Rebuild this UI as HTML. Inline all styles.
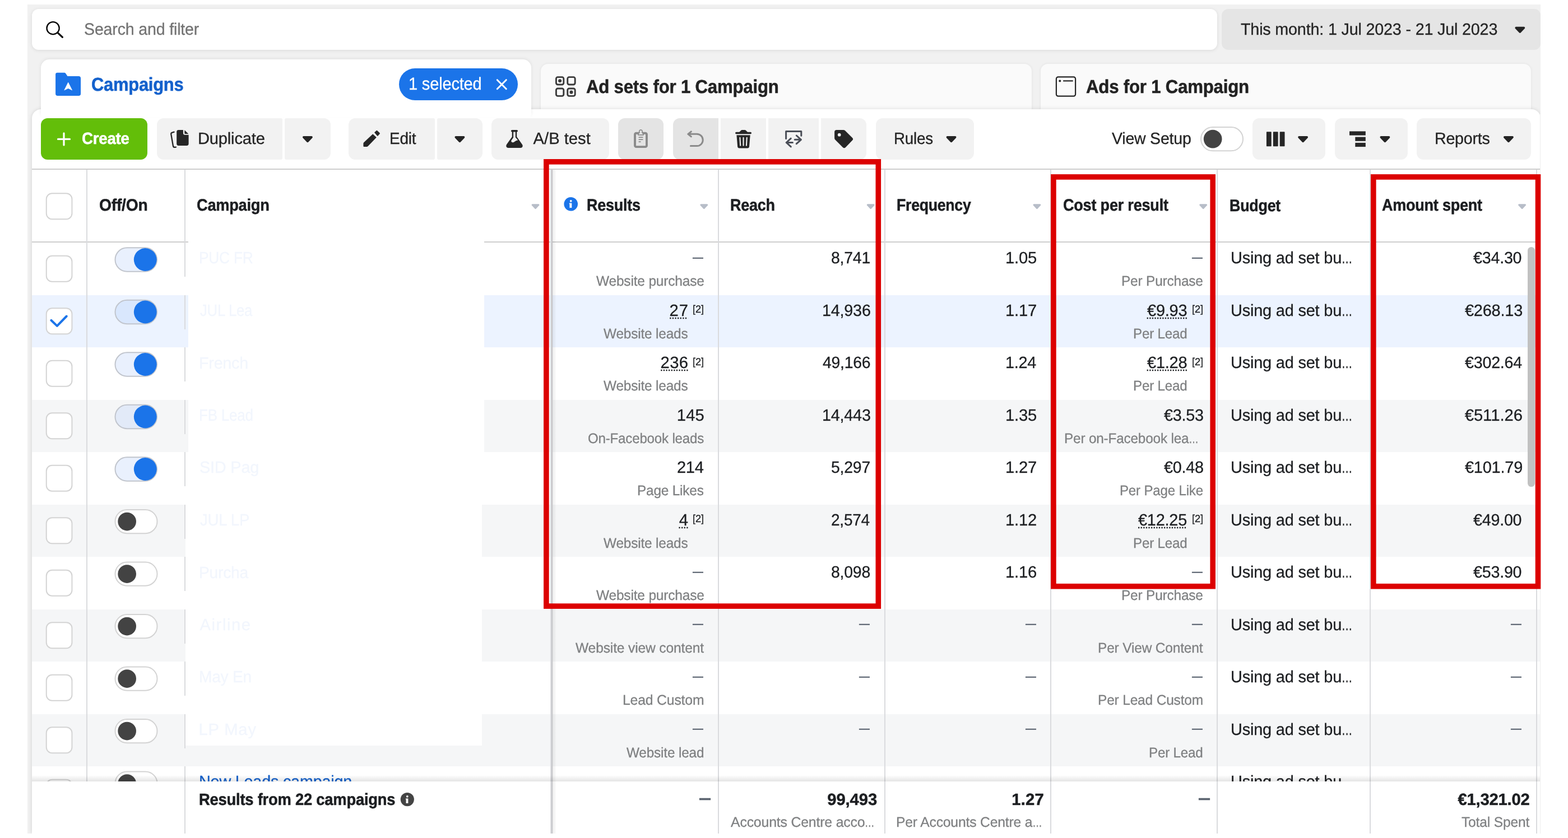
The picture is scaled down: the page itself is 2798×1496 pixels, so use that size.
<!DOCTYPE html>
<html lang="en"><head><meta charset="utf-8"><title>Ads Manager - Campaigns</title>
<style>
html,body{margin:0;padding:0;background:#fff;}
body{width:2798px;height:1496px;position:relative;overflow:hidden;font-family:"Liberation Sans", Arial, sans-serif;}
.t{position:absolute;white-space:nowrap;line-height:1;text-rendering:geometricPrecision;-webkit-text-stroke:0.3px currentColor;}
</style></head><body>
<div style="position:absolute;left:49px;top:8px;width:2700.3px;height:1480px;background:#f1f1f1;"></div>
<div style="position:absolute;left:57px;top:16.2px;width:2115.2px;height:73px;background:#fff;border-radius:12px;box-shadow:0 1px 6px rgba(0,0,0,.10);"></div>
<svg style="position:absolute;left:80px;top:35px;overflow:visible;" width="37" height="37"><g transform="translate(0.000 0.000)"><circle cx="14.6" cy="15.2" r="11.1" fill="none" stroke="#000" stroke-width="2.3"/><path d="M22.6 23.2L31.4 31.4" stroke="#000" stroke-width="3.2" stroke-linecap="round"/></g></svg>
<span class="t" style="top:38.00px;font-size:29.6px;color:#737373;letter-spacing:-0.167px;left:150.04px;transform:scaleX(0.9648);transform-origin:0 0;">Search and filter</span>
<div style="position:absolute;left:2180.4px;top:16.2px;width:568.8px;height:73px;background:#e5e5e5;border-radius:12px 11px 11px 12px;"></div>
<span class="t" style="top:39.00px;font-size:29.2px;color:#242424;letter-spacing:-0.164px;left:2214.00px;transform:scaleX(0.9827);transform-origin:0 0;">This month: 1 Jul 2023 - 21 Jul 2023</span>
<svg style="position:absolute;left:2702px;top:47px;overflow:visible;overflow:visible;" width="21" height="14"><g transform="translate(0.800 0.700) scale(0.95000 0.95000)"><path d="M2.7 0H17.3a2.1 2.1 0 0 1 1.5 3.55L11.55 11.2a2.15 2.15 0 0 1-3.1 0L1.2 3.55A2.1 2.1 0 0 1 2.7 0Z" fill="#242424"/></g></svg>
<div style="position:absolute;left:964.6px;top:114px;width:876.3px;height:90px;background:#fafafa;border-radius:13px 13px 0 0;box-shadow:0 0 5px rgba(0,0,0,.07);"></div>
<div style="position:absolute;left:1857.3px;top:114px;width:875.1px;height:90px;background:#fafafa;border-radius:13px 13px 0 0;box-shadow:0 0 5px rgba(0,0,0,.07);"></div>
<div style="position:absolute;left:57px;top:195px;width:2692.3px;height:1293px;background:#fff;border-radius:16px 16px 0 0;box-shadow:0 0 7px rgba(0,0,0,.13);"></div>
<div style="position:absolute;left:2749.3px;top:0px;width:49px;height:1496px;background:#fff;"></div>
<div style="position:absolute;left:0px;top:1488px;width:2798px;height:8px;background:#fff;"></div>
<div style="position:absolute;left:73px;top:106px;width:875.4px;height:100px;background:#fff;border-radius:15px 15px 0 0;box-shadow:0 -1px 6px rgba(0,0,0,.08);"></div>
<div style="position:absolute;left:74px;top:197px;width:873px;height:12px;background:#fff;"></div>
<svg style="position:absolute;left:99px;top:129px;overflow:visible;" width="47" height="44"><g transform="translate(0.100 0.800)"><path d="M0 3.2A3.2 3.2 0 0 1 3.2 0H15.6a3.2 3.2 0 0 1 2.6 1.35L21.4 6.3H41.2A3.8 3.8 0 0 1 45 10.1V37.4a3.8 3.8 0 0 1-3.8 3.8H3.8A3.8 3.8 0 0 1 0 37.4Z" fill="#1b74e9"/><path d="M22.6 17.3L29.6 31.2L22.6 27.9L15.6 31.2Z" fill="#fff" stroke="#fff" stroke-width="0.6" stroke-linejoin="round"/></g></svg>
<span class="t" style="top:135.00px;font-size:33.4px;color:#1461cc;font-weight:700;-webkit-text-stroke-width:0.55px;letter-spacing:-0.289px;left:162.57px;transform:scaleX(0.9267);transform-origin:0 0;">Campaigns</span>
<div style="position:absolute;left:712.2px;top:122.1px;width:211.9px;height:56.8px;background:#1b74e9;border-radius:29px;"></div>
<span class="t" style="top:134.00px;font-size:31.0px;color:#fff;letter-spacing:-0.197px;left:728.93px;transform:scaleX(0.9369);transform-origin:0 0;">1 selected</span>
<svg style="position:absolute;left:885px;top:141px;overflow:visible;" width="21" height="21"><g transform="translate(0.800 0.200)"><path d="M1.5 1.5L17.5 17.5M17.5 1.5L1.5 17.5" stroke="#fff" stroke-width="3" stroke-linecap="round"/></g></svg>
<svg style="position:absolute;left:990px;top:136px;overflow:visible;" width="39" height="39"><g transform="translate(0.950 0.150)"><rect x="1.45" y="1.45" width="13.4" height="13.4" rx="2.9" fill="none" stroke="#3a3a3a" stroke-width="2.9"/><circle cx="8.15" cy="8.15" r="3.05" fill="#3a3a3a"/><rect x="21.8" y="1.45" width="13.4" height="13.4" rx="2.9" fill="none" stroke="#3a3a3a" stroke-width="2.9"/><rect x="1.45" y="21.8" width="13.4" height="13.4" rx="2.9" fill="none" stroke="#3a3a3a" stroke-width="2.9"/><rect x="21.8" y="21.8" width="13.4" height="13.4" rx="2.9" fill="none" stroke="#3a3a3a" stroke-width="2.9"/><circle cx="28.5" cy="28.5" r="3.05" fill="#3a3a3a"/></g></svg>
<span class="t" style="top:139.00px;font-size:33.4px;color:#222;font-weight:700;-webkit-text-stroke-width:0.55px;letter-spacing:-0.227px;left:1045.90px;transform:scaleX(0.9338);transform-origin:0 0;">Ad sets for 1 Campaign</span>
<svg style="position:absolute;left:1883px;top:136px;overflow:visible;" width="39" height="38"><g transform="translate(0.700 0.100)"><rect x="1.2" y="1.2" width="34.2" height="34.4" rx="3.4" fill="none" stroke="#262626" stroke-width="2.2"/><circle cx="7.6" cy="8.3" r="2" fill="#262626"/><path d="M13.4 8.3H31" stroke="#262626" stroke-width="2.2"/></g></svg>
<span class="t" style="top:139.00px;font-size:33.4px;color:#222;font-weight:700;-webkit-text-stroke-width:0.55px;letter-spacing:-0.237px;left:1937.80px;transform:scaleX(0.9349);transform-origin:0 0;">Ads for 1 Campaign</span>
<div style="position:absolute;left:73.1px;top:211px;width:190.1px;height:74px;background:#63be09;border-radius:12px;"></div>
<svg style="position:absolute;left:102px;top:236px;overflow:visible;" width="25" height="26"><g transform="translate(0.300 0.700)"><path d="M11.7 1.2V22.2M1.2 11.7H22.2" stroke="#fff" stroke-width="3.2" stroke-linecap="round"/></g></svg>
<span class="t" style="top:234.00px;font-size:29.2px;color:#fff;font-weight:700;-webkit-text-stroke-width:0.55px;letter-spacing:-0.227px;left:146.05px;transform:scaleX(0.9459);transform-origin:0 0;">Create</span>
<div style="position:absolute;left:279.8px;top:211px;width:224.4px;height:74px;background:#f2f2f2;border-radius:12px 3px 3px 12px;"></div>
<svg style="position:absolute;left:304px;top:231px;overflow:visible;" width="34" height="35"><g transform="translate(0.000 0.800)"><path d="M14.6 0.1H22.9V5.8A3.2 3.2 0 0 0 26.1 9H32.6V24.7A3.4 3.4 0 0 1 29.2 28.1H14.6A3.4 3.4 0 0 1 11.2 24.7V3.5A3.4 3.4 0 0 1 14.6 0.1Z" fill="#262626"/><path d="M25.3 0.5L32.3 7.1H26.3A1 1 0 0 1 25.3 6.1Z" fill="#262626"/><path d="M6.6 3.9L3.3 4.8A2.7 2.7 0 0 0 1.3 7.9L4.9 28.7A2.9 2.9 0 0 0 8.1 31.1L9.9 30.9" fill="none" stroke="#262626" stroke-width="2.3" stroke-linecap="round" stroke-linejoin="round"/></g></svg>
<span class="t" style="top:234.00px;font-size:29.2px;color:#242424;letter-spacing:-0.178px;left:352.81px;transform:scaleX(0.9964);transform-origin:0 0;">Duplicate</span>
<div style="position:absolute;left:508.2px;top:211px;width:81.4px;height:74px;background:#f2f2f2;border-radius:3px 12px 12px 3px;"></div>
<svg style="position:absolute;left:539px;top:242px;overflow:visible;overflow:visible;" width="21" height="14"><g transform="translate(0.400 0.900) scale(0.95000 0.95000)"><path d="M2.7 0H17.3a2.1 2.1 0 0 1 1.5 3.55L11.55 11.2a2.15 2.15 0 0 1-3.1 0L1.2 3.55A2.1 2.1 0 0 1 2.7 0Z" fill="#242424"/></g></svg>
<div style="position:absolute;left:622.1px;top:211px;width:153.7px;height:74px;background:#f2f2f2;border-radius:12px 3px 3px 12px;"></div>
<svg style="position:absolute;left:640px;top:216px;overflow:visible;" width="49" height="57"><g transform="translate(0.000 0.000)"><path d="M25.2 23.3L31.8 29.3L16.6 45.1Q15.6 46 14.4 46L9.7 46.1Q8.4 46.1 8.4 44.8L8.4 40.4Q8.4 39.1 9.3 38.2Z" fill="#262626"/><path d="M28 20.6L31.5 17.2Q32.3 16.4 33.2 17.2L37.5 21.3Q38.3 22.1 37.6 23L34.4 26.5Q33.8 27.1 33.1 26.4Z" fill="#262626"/></g></svg>
<span class="t" style="top:234.00px;font-size:29.2px;color:#242424;letter-spacing:-0.202px;left:695.49px;transform:scaleX(0.9563);transform-origin:0 0;">Edit</span>
<div style="position:absolute;left:779.7px;top:211px;width:81.2px;height:74px;background:#f2f2f2;border-radius:3px 12px 12px 3px;"></div>
<svg style="position:absolute;left:810px;top:242px;overflow:visible;overflow:visible;" width="21" height="14"><g transform="translate(0.900 0.900) scale(0.95000 0.95000)"><path d="M2.7 0H17.3a2.1 2.1 0 0 1 1.5 3.55L11.55 11.2a2.15 2.15 0 0 1-3.1 0L1.2 3.55A2.1 2.1 0 0 1 2.7 0Z" fill="#242424"/></g></svg>
<div style="position:absolute;left:877.1px;top:211px;width:209.6px;height:74px;background:#f2f2f2;border-radius:12px;"></div>
<svg style="position:absolute;left:890px;top:216px;overflow:visible;" width="61" height="57"><g transform="translate(0.000 0.000)"><rect x="21.9" y="15.9" width="12.1" height="3.6" rx="1.8" fill="#262626"/><path d="M23.7 17.6V28.3L14.3 41.5Q12.3 44.6 14 46.7Q15.2 48.1 17.4 48.1H38.5Q40.7 48.1 41.9 46.7Q43.6 44.6 41.6 41.5L32.2 28.3V17.6Z" fill="#262626"/><path d="M26.1 19.4H29.8V29.2L34.2 34.3Q31.2 34.5 28.8 36.4Q26.2 38.5 24.3 38.2Q22.5 37.8 22.2 36.1Q22.1 35.2 22.8 34.2L26.1 29.5Z" fill="#f2f2f2"/></g></svg>
<span class="t" style="top:234.00px;font-size:29.2px;color:#242424;letter-spacing:0.001px;left:951.60px;">A/B test</span>
<div style="position:absolute;left:1102.9px;top:211px;width:81.2px;height:74px;background:#e4e4e4;border-radius:12px;"></div>
<svg style="position:absolute;left:1100px;top:216px;overflow:visible;" width="101" height="57"><g transform="translate(0.000 0.000)"><rect x="33" y="21.75" width="20.95" height="24.4" rx="2.3" fill="none" stroke="#8a8a8a" stroke-width="3.9"/><path d="M38.9 24.9V23.6Q38.9 22.2 40.3 21.6Q41.3 21.1 41 19.8A2.75 2.75 0 1 1 45.9 19.8Q45.6 21.1 46.6 21.6Q48 22.2 48 23.6V24.9Z" fill="#e4e4e4" stroke="#8a8a8a" stroke-width="1.7" stroke-linejoin="round"/><path d="M39.6 29.1H47.4M39.6 33.15H47.4M39.6 37.1H43.5" stroke="#8a8a8a" stroke-width="1.75"/></g></svg>
<div style="position:absolute;left:1200.6px;top:211px;width:81.4px;height:74px;background:#e4e4e4;border-radius:12px 0 0 12px;"></div>
<svg style="position:absolute;left:1100px;top:216px;overflow:visible;" width="201" height="57"><g transform="translate(0.000 0.000)"><path d="M133.3 18.9L127.8 23.3L133.3 27.8M128.4 23.3H143.6A10.65 10.65 0 0 1 143.6 44.6H132.4" fill="none" stroke="#8a8a8a" stroke-width="3" stroke-linecap="round" stroke-linejoin="round"/></g></svg>
<div style="position:absolute;left:1285.9px;top:211px;width:81.0px;height:74px;background:#f2f2f2;border-radius:0;"></div>
<svg style="position:absolute;left:1300px;top:216px;overflow:visible;" width="61" height="57"><g transform="translate(0.000 0.000)"><path d="M18.6 20.6L22.3 16.8Q23 16 24.1 16H29.1Q30.2 16 30.9 16.8L34.6 20.6Z" fill="#262626"/><rect x="12.1" y="19.85" width="28.9" height="3.3" rx="1.65" fill="#262626"/><path d="M14.4 25.2H38.7L37 45.5Q36.7 48.4 33.9 48.4H19.2Q16.4 48.4 16.1 45.5Z" fill="#262626"/><path d="M20.4 29.7L21.2 43.8M26.55 29.7V43.8M32.7 29.7L31.9 43.8" stroke="#f2f2f2" stroke-width="2.1" stroke-linecap="round"/></g></svg>
<div style="position:absolute;left:1371.1px;top:211px;width:89.6px;height:74px;background:#f2f2f2;border-radius:0;"></div>
<svg style="position:absolute;left:1300px;top:216px;overflow:visible;" width="161" height="57"><g transform="translate(0.000 0.000)"><path d="M102.6 31.4V18.5H129.8V26.3" fill="none" stroke="#4a4e57" stroke-width="3" stroke-linecap="round" stroke-linejoin="round"/><path d="M111.2 31.2L103.2 38.5L111.2 45.9M104 38.5H114.4" fill="none" stroke="#4a4e57" stroke-width="3" stroke-linecap="round" stroke-linejoin="round"/><path d="M121.3 26L129.4 33.3L121.3 40.7M128.6 33.3H118.2" fill="none" stroke="#4a4e57" stroke-width="3" stroke-linecap="round" stroke-linejoin="round"/></g></svg>
<div style="position:absolute;left:1465px;top:211px;width:81px;height:74px;background:#f2f2f2;border-radius:0 12px 12px 0;"></div>
<svg style="position:absolute;left:1300px;top:216px;overflow:visible;" width="241" height="57"><g transform="translate(0.000 0.000)"><path d="M189.1 19.7Q189.1 16 192.8 16H204.9Q206.8 16 208.1 17.3L221 30Q223.3 32.3 221 34.6L208.7 47.2Q206.4 49.5 204.1 47.2L190.4 33.5Q189.1 32.2 189.1 30.4Z" fill="#262626"/><circle cx="197.7" cy="24.7" r="2.85" fill="#f2f2f2"/></g></svg>
<div style="position:absolute;left:1562.5px;top:211px;width:175.5px;height:74px;background:#f2f2f2;border-radius:12px;"></div>
<span class="t" style="top:234.00px;font-size:29.2px;color:#242424;letter-spacing:-0.227px;left:1594.60px;transform:scaleX(0.9505);transform-origin:0 0;">Rules</span>
<svg style="position:absolute;left:1688px;top:242px;overflow:visible;overflow:visible;" width="20" height="14"><g transform="translate(0.000 0.900) scale(0.95000 0.95000)"><path d="M2.7 0H17.3a2.1 2.1 0 0 1 1.5 3.55L11.55 11.2a2.15 2.15 0 0 1-3.1 0L1.2 3.55A2.1 2.1 0 0 1 2.7 0Z" fill="#242424"/></g></svg>
<span class="t" style="top:234.00px;font-size:29.2px;color:#242424;letter-spacing:-0.199px;left:1984.10px;transform:scaleX(0.9751);transform-origin:0 0;">View Setup</span>
<svg style="position:absolute;left:2142px;top:226px;overflow:visible;" width="79" height="47"><g transform="translate(0.000 0.000)"><rect x="1" y="1" width="75" height="42.3" rx="21.15" fill="#fff" stroke="#d3d3d3" stroke-width="2"/><circle cx="22.15" cy="22.15" r="16.35" fill="#434343"/></g></svg>
<div style="position:absolute;left:2235.1px;top:211px;width:130.1px;height:74px;background:#f2f2f2;border-radius:12px;"></div>
<svg style="position:absolute;left:2259px;top:235px;overflow:visible;" width="35" height="28"><g transform="translate(0.900 0.200)"><rect x="0" y="0" width="8.8" height="26" rx="0.8" fill="#262626"/><rect x="11.9" y="0" width="8.8" height="26" rx="0.8" fill="#262626"/><rect x="23.8" y="0" width="8.8" height="26" rx="0.8" fill="#262626"/></g></svg>
<svg style="position:absolute;left:2315px;top:242px;overflow:visible;overflow:visible;" width="21" height="14"><g transform="translate(0.600 0.900) scale(0.95000 0.95000)"><path d="M2.7 0H17.3a2.1 2.1 0 0 1 1.5 3.55L11.55 11.2a2.15 2.15 0 0 1-3.1 0L1.2 3.55A2.1 2.1 0 0 1 2.7 0Z" fill="#242424"/></g></svg>
<div style="position:absolute;left:2381.7px;top:211px;width:130.1px;height:74px;background:#f2f2f2;border-radius:12px;"></div>
<svg style="position:absolute;left:2408px;top:234px;overflow:visible;" width="30" height="30"><g transform="translate(0.000 0.400)"><rect x="0" y="0" width="28.8" height="7.2" fill="#262626"/><rect x="10.3" y="10.2" width="18.5" height="7.2" fill="#262626"/><rect x="10.3" y="20.5" width="18.5" height="7.2" fill="#262626"/></g></svg>
<svg style="position:absolute;left:2461px;top:242px;overflow:visible;overflow:visible;" width="21" height="14"><g transform="translate(0.900 0.900) scale(0.95000 0.95000)"><path d="M2.7 0H17.3a2.1 2.1 0 0 1 1.5 3.55L11.55 11.2a2.15 2.15 0 0 1-3.1 0L1.2 3.55A2.1 2.1 0 0 1 2.7 0Z" fill="#242424"/></g></svg>
<div style="position:absolute;left:2528.1px;top:211px;width:204.3px;height:74px;background:#f2f2f2;border-radius:12px;"></div>
<span class="t" style="top:234.00px;font-size:29.2px;color:#242424;letter-spacing:-0.204px;left:2559.84px;transform:scaleX(0.9788);transform-origin:0 0;">Reports</span>
<svg style="position:absolute;left:2682px;top:242px;overflow:visible;overflow:visible;" width="21" height="14"><g transform="translate(0.400 0.900) scale(0.95000 0.95000)"><path d="M2.7 0H17.3a2.1 2.1 0 0 1 1.5 3.55L11.55 11.2a2.15 2.15 0 0 1-3.1 0L1.2 3.55A2.1 2.1 0 0 1 2.7 0Z" fill="#242424"/></g></svg>
<div style="position:absolute;left:0;top:0;width:2798px;height:1395px;overflow:hidden;">
<div style="position:absolute;left:57px;top:526.5px;width:2692.3px;height:93.5px;background:#ecf3ff;"></div>
<div style="position:absolute;left:57px;top:713.5px;width:2692.3px;height:93.5px;background:#f5f6f7;"></div>
<div style="position:absolute;left:57px;top:900.5px;width:2692.3px;height:93.5px;background:#f5f6f7;"></div>
<div style="position:absolute;left:57px;top:1087.5px;width:2692.3px;height:93.5px;background:#f5f6f7;"></div>
<div style="position:absolute;left:57px;top:1274.5px;width:2692.3px;height:93.5px;background:#f5f6f7;"></div>
<div style="position:absolute;left:57px;top:301px;width:2692.3px;height:2px;background:#cecece;"></div>
<div style="position:absolute;left:57px;top:431px;width:2692.3px;height:2px;background:#cecece;"></div>
<div style="position:absolute;left:154.4px;top:303px;width:2px;height:1200px;background:#dadbde;"></div>
<div style="position:absolute;left:329px;top:303px;width:2px;height:130px;background:#dadbde;"></div>
<div style="position:absolute;left:329px;top:433.0px;width:2px;height:61px;background:#dadbde;"></div>
<div style="position:absolute;left:329px;top:526.5px;width:2px;height:61px;background:#dadbde;"></div>
<div style="position:absolute;left:329px;top:620.0px;width:2px;height:61px;background:#dadbde;"></div>
<div style="position:absolute;left:329px;top:713.5px;width:2px;height:61px;background:#dadbde;"></div>
<div style="position:absolute;left:329px;top:807.0px;width:2px;height:61px;background:#dadbde;"></div>
<div style="position:absolute;left:329px;top:900.5px;width:2px;height:61px;background:#dadbde;"></div>
<div style="position:absolute;left:329px;top:994.0px;width:2px;height:61px;background:#dadbde;"></div>
<div style="position:absolute;left:329px;top:1087.5px;width:2px;height:61px;background:#dadbde;"></div>
<div style="position:absolute;left:329px;top:1181.0px;width:2px;height:61px;background:#dadbde;"></div>
<div style="position:absolute;left:329px;top:1274.5px;width:2px;height:61px;background:#dadbde;"></div>
<div style="position:absolute;left:329px;top:1368.0px;width:2px;height:61px;background:#dadbde;"></div>
<div style="position:absolute;left:1281px;top:303px;width:2px;height:1200px;background:#dadbde;"></div>
<div style="position:absolute;left:1578px;top:303px;width:2px;height:1200px;background:#dadbde;"></div>
<div style="position:absolute;left:1874.1px;top:303px;width:2px;height:1200px;background:#dadbde;"></div>
<div style="position:absolute;left:2171.3px;top:303px;width:2px;height:1200px;background:#dadbde;"></div>
<div style="position:absolute;left:2444px;top:303px;width:2px;height:1200px;background:#dadbde;"></div>
<div style="position:absolute;left:2740.8px;top:303px;width:2px;height:1200px;background:#dadbde;"></div>
<div style="position:absolute;left:982px;top:303px;width:2px;height:1200px;background:#dcdde0;"></div>
<div style="position:absolute;left:984px;top:303px;width:2px;height:1200px;background:#c4c5c9;"></div>
<div style="position:absolute;left:986px;top:303px;width:7px;height:1200px;background:linear-gradient(90deg,rgba(0,0,0,.075),rgba(0,0,0,0));"></div>
<svg style="position:absolute;left:81px;top:344px;overflow:visible;" width="51" height="51"><g transform="translate(0.750 0.200)"><rect x="1" y="1" width="45.7" height="46" rx="10.2" fill="#fff" stroke="#d4d4d4" stroke-width="2"/></g></svg>
<span class="t" style="top:352.00px;font-size:29.6px;color:#1c1e21;font-weight:700;-webkit-text-stroke-width:0.55px;letter-spacing:-0.226px;left:176.85px;transform:scaleX(0.9534);transform-origin:0 0;">Off/On</span>
<span class="t" style="top:352.00px;font-size:29.6px;color:#1c1e21;font-weight:700;-webkit-text-stroke-width:0.55px;letter-spacing:-0.263px;left:351.48px;transform:scaleX(0.9192);transform-origin:0 0;">Campaign</span>
<svg style="position:absolute;left:1006px;top:351px;overflow:visible;" width="26" height="27"><g transform="translate(0.400 0.900)"><circle cx="12.3" cy="12.3" r="12.3" fill="#1b74e9"/><circle cx="12.3" cy="6.9" r="1.9" fill="#fff"/><path d="M10 10.6H13.9V19.2H10Z M9.4 10.6H13.9V12.4H9.4Z" fill="#fff"/></g></svg>
<span class="t" style="top:352.00px;font-size:29.6px;color:#1c1e21;font-weight:700;-webkit-text-stroke-width:0.55px;letter-spacing:-0.232px;left:1047.09px;transform:scaleX(0.9092);transform-origin:0 0;">Results</span>
<span class="t" style="top:352.00px;font-size:29.6px;color:#1c1e21;font-weight:700;-webkit-text-stroke-width:0.55px;letter-spacing:-0.286px;left:1302.89px;transform:scaleX(0.9112);transform-origin:0 0;">Reach</span>
<span class="t" style="top:352.00px;font-size:29.6px;color:#1c1e21;font-weight:700;-webkit-text-stroke-width:0.55px;letter-spacing:-0.249px;left:1599.90px;transform:scaleX(0.8987);transform-origin:0 0;">Frequency</span>
<span class="t" style="top:352.00px;font-size:29.6px;color:#1c1e21;font-weight:700;-webkit-text-stroke-width:0.55px;letter-spacing:-0.195px;left:1896.59px;transform:scaleX(0.9120);transform-origin:0 0;">Cost per result</span>
<span class="t" style="top:353.00px;font-size:29.6px;color:#1c1e21;font-weight:700;-webkit-text-stroke-width:0.55px;letter-spacing:-0.267px;left:2193.79px;transform:scaleX(0.9075);transform-origin:0 0;">Budget</span>
<span class="t" style="top:352.00px;font-size:29.6px;color:#1c1e21;font-weight:700;-webkit-text-stroke-width:0.55px;letter-spacing:-0.238px;left:2466.00px;transform:scaleX(0.9117);transform-origin:0 0;">Amount spent</span>
<svg style="position:absolute;left:948px;top:364px;overflow:visible;overflow:visible;" width="16" height="11"><g transform="translate(0.100 0.200) scale(0.74000 0.75000)"><path d="M2.7 0H17.3a2.1 2.1 0 0 1 1.5 3.55L11.55 11.2a2.15 2.15 0 0 1-3.1 0L1.2 3.55A2.1 2.1 0 0 1 2.7 0Z" fill="#b7bdc8"/></g></svg>
<svg style="position:absolute;left:1248px;top:364px;overflow:visible;overflow:visible;" width="17" height="11"><g transform="translate(0.900 0.200) scale(0.74000 0.75000)"><path d="M2.7 0H17.3a2.1 2.1 0 0 1 1.5 3.55L11.55 11.2a2.15 2.15 0 0 1-3.1 0L1.2 3.55A2.1 2.1 0 0 1 2.7 0Z" fill="#b7bdc8"/></g></svg>
<svg style="position:absolute;left:1546px;top:364px;overflow:visible;overflow:visible;" width="17" height="11"><g transform="translate(0.300 0.200) scale(0.74000 0.75000)"><path d="M2.7 0H17.3a2.1 2.1 0 0 1 1.5 3.55L11.55 11.2a2.15 2.15 0 0 1-3.1 0L1.2 3.55A2.1 2.1 0 0 1 2.7 0Z" fill="#b7bdc8"/></g></svg>
<svg style="position:absolute;left:1843px;top:364px;overflow:visible;overflow:visible;" width="16" height="11"><g transform="translate(0.000 0.200) scale(0.74000 0.75000)"><path d="M2.7 0H17.3a2.1 2.1 0 0 1 1.5 3.55L11.55 11.2a2.15 2.15 0 0 1-3.1 0L1.2 3.55A2.1 2.1 0 0 1 2.7 0Z" fill="#b7bdc8"/></g></svg>
<svg style="position:absolute;left:2139px;top:364px;overflow:visible;overflow:visible;" width="17" height="11"><g transform="translate(0.800 0.200) scale(0.74000 0.75000)"><path d="M2.7 0H17.3a2.1 2.1 0 0 1 1.5 3.55L11.55 11.2a2.15 2.15 0 0 1-3.1 0L1.2 3.55A2.1 2.1 0 0 1 2.7 0Z" fill="#b7bdc8"/></g></svg>
<svg style="position:absolute;left:2708px;top:364px;overflow:visible;overflow:visible;" width="17" height="11"><g transform="translate(0.700 0.200) scale(0.74000 0.75000)"><path d="M2.7 0H17.3a2.1 2.1 0 0 1 1.5 3.55L11.55 11.2a2.15 2.15 0 0 1-3.1 0L1.2 3.55A2.1 2.1 0 0 1 2.7 0Z" fill="#b7bdc8"/></g></svg>
<svg style="position:absolute;left:81px;top:455px;overflow:visible;" width="51" height="51"><g transform="translate(0.750 0.800)"><rect x="1" y="1" width="45.7" height="46" rx="10.2" fill="#fff" stroke="#d4d4d4" stroke-width="2"/></g></svg>
<svg style="position:absolute;left:204px;top:441px;overflow:visible;" width="80" height="48"><g transform="translate(0.500 0.350)"><rect x="1" y="1" width="74.5" height="42.3" rx="21.15" fill="#e9f0fd" stroke="#c1c5cd" stroke-width="2"/><circle cx="54.75" cy="22.15" r="20.4" fill="#1b74e9"/></g></svg>
<span class="t" style="top:447.00px;font-size:29.2px;color:#1c1e21;letter-spacing:-0.173px;left:2196.02px;transform:scaleX(0.9892);transform-origin:0 0;">Using ad set bu<span style="display:inline-block;letter-spacing:0;margin-left:-0.59px;transform:scaleX(0.6802);transform-origin:0 0;">…</span></span>
<span class="t" style="right:1542.90px;top:444.80px;font-size:28px;line-height:28px;color:#5d6673;transform:scaleX(.675) scaleY(1.0);transform-origin:100% 62%;">—</span>
<span class="t" style="top:490.00px;font-size:25.0px;color:#7f8082;letter-spacing:-0.163px;left:1063.60px;transform:scaleX(0.9781);transform-origin:0 0;">Website purchase</span>
<span class="t" style="top:447.00px;font-size:29.2px;color:#1c1e21;letter-spacing:-0.218px;left:1483.33px;transform:scaleX(0.9724);transform-origin:0 0;">8,741</span>
<span class="t" style="top:447.00px;font-size:29.2px;color:#1c1e21;letter-spacing:-0.158px;left:1794.00px;">1.05</span>
<span class="t" style="right:652.20px;top:444.80px;font-size:28px;line-height:28px;color:#5d6673;transform:scaleX(.675) scaleY(1.0);transform-origin:100% 62%;">—</span>
<span class="t" style="top:490.00px;font-size:25.0px;color:#7f8082;letter-spacing:-0.166px;left:2001.35px;transform:scaleX(0.9746);transform-origin:0 0;">Per Purchase</span>
<span class="t" style="top:447.00px;font-size:29.2px;color:#1c1e21;letter-spacing:-0.218px;left:2629.40px;transform:scaleX(0.9812);transform-origin:0 0;">€34.30</span>
<svg style="position:absolute;left:81px;top:549px;overflow:visible;" width="51" height="51"><g transform="translate(0.750 0.300)"><rect x="1" y="1" width="45.7" height="46" rx="10.2" fill="#fff" stroke="#d4d4d4" stroke-width="2"/><path d="M9.6 22.5L20.1 32.6L37 15.2" fill="none" stroke="#1b74e9" stroke-width="4" stroke-linecap="round" stroke-linejoin="round"/></g></svg>
<svg style="position:absolute;left:204px;top:534px;overflow:visible;" width="80" height="48"><g transform="translate(0.500 0.850)"><rect x="1" y="1" width="74.5" height="42.3" rx="21.15" fill="#d9e7fd" stroke="#c1c5cd" stroke-width="2"/><circle cx="54.75" cy="22.15" r="20.4" fill="#1b74e9"/></g></svg>
<span class="t" style="top:541.00px;font-size:29.2px;color:#1c1e21;letter-spacing:-0.173px;left:2196.02px;transform:scaleX(0.9892);transform-origin:0 0;">Using ad set bu<span style="display:inline-block;letter-spacing:0;margin-left:-0.59px;transform:scaleX(0.6802);transform-origin:0 0;">…</span></span>
<span class="t" style="top:541.00px;font-size:29.2px;color:#1c1e21;letter-spacing:0.867px;left:1194.60px;">27</span>
<span class="t" style="top:543.00px;font-size:18.3px;color:#1c1e21;letter-spacing:-0.110px;left:1236.21px;transform:scaleX(0.9930);transform-origin:0 0;">[2]</span>
<svg style="position:absolute;left:1195px;top:566px;overflow:visible;" width="34" height="5"><g transform="translate(0.200 0.650)"><path d="M0 1.25H32.30" stroke="#1c1e21" stroke-width="2.5" stroke-dasharray="2.3 2.3" fill="none"/></g></svg>
<span class="t" style="top:584.00px;font-size:25.0px;color:#7f8082;letter-spacing:-0.160px;left:1077.00px;transform:scaleX(0.9744);transform-origin:0 0;">Website leads</span>
<span class="t" style="top:541.00px;font-size:29.2px;color:#1c1e21;letter-spacing:-0.210px;left:1466.63px;transform:scaleX(0.9848);transform-origin:0 0;">14,936</span>
<span class="t" style="top:541.00px;font-size:29.2px;color:#1c1e21;letter-spacing:-0.158px;left:1794.00px;">1.17</span>
<span class="t" style="top:541.00px;font-size:29.2px;color:#1c1e21;letter-spacing:-0.217px;left:2047.00px;transform:scaleX(0.9924);transform-origin:0 0;">€9.93</span>
<span class="t" style="top:543.00px;font-size:18.3px;color:#1c1e21;letter-spacing:-0.110px;left:2126.91px;transform:scaleX(0.9930);transform-origin:0 0;">[2]</span>
<svg style="position:absolute;left:2046px;top:566px;overflow:visible;" width="74" height="5"><g transform="translate(0.600 0.650)"><path d="M0 1.25H71.60" stroke="#1c1e21" stroke-width="2.5" stroke-dasharray="2.3 2.3" fill="none"/></g></svg>
<span class="t" style="top:584.00px;font-size:25.0px;color:#7f8082;letter-spacing:-0.175px;left:2021.57px;transform:scaleX(0.9647);transform-origin:0 0;">Per Lead</span>
<span class="t" style="top:541.00px;font-size:29.2px;color:#1c1e21;letter-spacing:-0.211px;left:2613.70px;transform:scaleX(0.9902);transform-origin:0 0;">€268.13</span>
<svg style="position:absolute;left:81px;top:642px;overflow:visible;" width="51" height="51"><g transform="translate(0.750 0.800)"><rect x="1" y="1" width="45.7" height="46" rx="10.2" fill="#fff" stroke="#d4d4d4" stroke-width="2"/></g></svg>
<svg style="position:absolute;left:204px;top:628px;overflow:visible;" width="80" height="48"><g transform="translate(0.500 0.350)"><rect x="1" y="1" width="74.5" height="42.3" rx="21.15" fill="#e9f0fd" stroke="#c1c5cd" stroke-width="2"/><circle cx="54.75" cy="22.15" r="20.4" fill="#1b74e9"/></g></svg>
<span class="t" style="top:634.00px;font-size:29.2px;color:#1c1e21;letter-spacing:-0.173px;left:2196.02px;transform:scaleX(0.9892);transform-origin:0 0;">Using ad set bu<span style="display:inline-block;letter-spacing:0;margin-left:-0.59px;transform:scaleX(0.6802);transform-origin:0 0;">…</span></span>
<span class="t" style="top:634.00px;font-size:29.2px;color:#1c1e21;letter-spacing:0.317px;left:1178.60px;">236</span>
<span class="t" style="top:637.00px;font-size:18.3px;color:#1c1e21;letter-spacing:-0.110px;left:1236.21px;transform:scaleX(0.9930);transform-origin:0 0;">[2]</span>
<svg style="position:absolute;left:1179px;top:659px;overflow:visible;" width="50" height="5"><g transform="translate(0.200 0.650)"><path d="M0 1.25H48.30" stroke="#1c1e21" stroke-width="2.5" stroke-dasharray="2.3 2.3" fill="none"/></g></svg>
<span class="t" style="top:677.00px;font-size:25.0px;color:#7f8082;letter-spacing:-0.160px;left:1077.00px;transform:scaleX(0.9744);transform-origin:0 0;">Website leads</span>
<span class="t" style="top:634.00px;font-size:29.2px;color:#1c1e21;letter-spacing:-0.218px;left:1468.00px;transform:scaleX(0.9695);transform-origin:0 0;">49,166</span>
<span class="t" style="top:634.00px;font-size:29.2px;color:#1c1e21;letter-spacing:-0.222px;left:1794.03px;transform:scaleX(0.9850);transform-origin:0 0;">1.24</span>
<span class="t" style="top:634.00px;font-size:29.2px;color:#1c1e21;letter-spacing:-0.217px;left:2047.00px;transform:scaleX(0.9924);transform-origin:0 0;">€1.28</span>
<span class="t" style="top:637.00px;font-size:18.3px;color:#1c1e21;letter-spacing:-0.110px;left:2126.91px;transform:scaleX(0.9930);transform-origin:0 0;">[2]</span>
<svg style="position:absolute;left:2046px;top:659px;overflow:visible;" width="74" height="5"><g transform="translate(0.600 0.650)"><path d="M0 1.25H71.60" stroke="#1c1e21" stroke-width="2.5" stroke-dasharray="2.3 2.3" fill="none"/></g></svg>
<span class="t" style="top:677.00px;font-size:25.0px;color:#7f8082;letter-spacing:-0.175px;left:2021.57px;transform:scaleX(0.9647);transform-origin:0 0;">Per Lead</span>
<span class="t" style="top:634.00px;font-size:29.2px;color:#1c1e21;letter-spacing:-0.215px;left:2613.70px;transform:scaleX(0.9809);transform-origin:0 0;">€302.64</span>
<svg style="position:absolute;left:81px;top:736px;overflow:visible;" width="51" height="51"><g transform="translate(0.750 0.300)"><rect x="1" y="1" width="45.7" height="46" rx="10.2" fill="#fff" stroke="#d4d4d4" stroke-width="2"/></g></svg>
<svg style="position:absolute;left:204px;top:721px;overflow:visible;" width="80" height="48"><g transform="translate(0.500 0.850)"><rect x="1" y="1" width="74.5" height="42.3" rx="21.15" fill="#e2eaf8" stroke="#c1c5cd" stroke-width="2"/><circle cx="54.75" cy="22.15" r="20.4" fill="#1b74e9"/></g></svg>
<span class="t" style="top:728.00px;font-size:29.2px;color:#1c1e21;letter-spacing:-0.173px;left:2196.02px;transform:scaleX(0.9892);transform-origin:0 0;">Using ad set bu<span style="display:inline-block;letter-spacing:0;margin-left:-0.59px;transform:scaleX(0.6802);transform-origin:0 0;">…</span></span>
<span class="t" style="top:728.00px;font-size:29.2px;color:#1c1e21;letter-spacing:0.167px;left:1207.80px;">145</span>
<span class="t" style="top:771.00px;font-size:25.0px;color:#7f8082;letter-spacing:-0.169px;left:1048.84px;transform:scaleX(0.9618);transform-origin:0 0;">On-Facebook leads</span>
<span class="t" style="top:728.00px;font-size:29.2px;color:#1c1e21;letter-spacing:-0.210px;left:1466.63px;transform:scaleX(0.9848);transform-origin:0 0;">14,443</span>
<span class="t" style="top:728.00px;font-size:29.2px;color:#1c1e21;letter-spacing:-0.158px;left:1794.00px;">1.35</span>
<span class="t" style="top:728.00px;font-size:29.2px;color:#1c1e21;letter-spacing:-0.219px;left:2076.50px;transform:scaleX(0.9840);transform-origin:0 0;">€3.53</span>
<span class="t" style="top:771.00px;font-size:25.0px;color:#7f8082;letter-spacing:-0.158px;left:1899.26px;transform:scaleX(0.9709);transform-origin:0 0;">Per on-Facebook lea<span style="display:inline-block;letter-spacing:0;margin-left:0.29px;transform:scaleX(0.7182);transform-origin:0 0;">…</span></span>
<span class="t" style="top:728.00px;font-size:29.2px;color:#1c1e21;letter-spacing:-0.018px;left:2613.70px;">€511.26</span>
<svg style="position:absolute;left:81px;top:829px;overflow:visible;" width="51" height="51"><g transform="translate(0.750 0.800)"><rect x="1" y="1" width="45.7" height="46" rx="10.2" fill="#fff" stroke="#d4d4d4" stroke-width="2"/></g></svg>
<svg style="position:absolute;left:204px;top:815px;overflow:visible;" width="80" height="48"><g transform="translate(0.500 0.350)"><rect x="1" y="1" width="74.5" height="42.3" rx="21.15" fill="#e9f0fd" stroke="#c1c5cd" stroke-width="2"/><circle cx="54.75" cy="22.15" r="20.4" fill="#1b74e9"/></g></svg>
<span class="t" style="top:821.00px;font-size:29.2px;color:#1c1e21;letter-spacing:-0.173px;left:2196.02px;transform:scaleX(0.9892);transform-origin:0 0;">Using ad set bu<span style="display:inline-block;letter-spacing:0;margin-left:-0.59px;transform:scaleX(0.6802);transform-origin:0 0;">…</span></span>
<span class="t" style="top:821.00px;font-size:29.2px;color:#1c1e21;letter-spacing:-0.287px;left:1208.01px;transform:scaleX(0.9938);transform-origin:0 0;">214</span>
<span class="t" style="top:864.00px;font-size:25.0px;color:#7f8082;letter-spacing:-0.166px;left:1137.26px;transform:scaleX(0.9724);transform-origin:0 0;">Page Likes</span>
<span class="t" style="top:821.00px;font-size:29.2px;color:#1c1e21;letter-spacing:-0.218px;left:1483.33px;transform:scaleX(0.9724);transform-origin:0 0;">5,297</span>
<span class="t" style="top:821.00px;font-size:29.2px;color:#1c1e21;letter-spacing:-0.158px;left:1794.00px;">1.27</span>
<span class="t" style="top:821.00px;font-size:29.2px;color:#1c1e21;letter-spacing:-0.219px;left:2076.50px;transform:scaleX(0.9840);transform-origin:0 0;">€0.48</span>
<span class="t" style="top:864.00px;font-size:25.0px;color:#7f8082;letter-spacing:-0.160px;left:1998.08px;transform:scaleX(0.9611);transform-origin:0 0;">Per Page Like</span>
<span class="t" style="top:821.00px;font-size:29.2px;color:#1c1e21;letter-spacing:-0.211px;left:2613.70px;transform:scaleX(0.9902);transform-origin:0 0;">€101.79</span>
<svg style="position:absolute;left:81px;top:923px;overflow:visible;" width="51" height="51"><g transform="translate(0.750 0.300)"><rect x="1" y="1" width="45.7" height="46" rx="10.2" fill="#fff" stroke="#d4d4d4" stroke-width="2"/></g></svg>
<svg style="position:absolute;left:204px;top:908px;overflow:visible;" width="80" height="48"><g transform="translate(0.500 0.900)"><rect x="1" y="1" width="75" height="42.3" rx="21.15" fill="#fff" stroke="#d3d3d3" stroke-width="2"/><circle cx="22.15" cy="22.15" r="16.35" fill="#434343"/></g></svg>
<span class="t" style="top:915.00px;font-size:29.2px;color:#1c1e21;letter-spacing:-0.173px;left:2196.02px;transform:scaleX(0.9892);transform-origin:0 0;">Using ad set bu<span style="display:inline-block;letter-spacing:0;margin-left:-0.59px;transform:scaleX(0.6802);transform-origin:0 0;">…</span></span>
<span class="t" style="top:915.00px;font-size:29.2px;color:#1c1e21;left:1211.80px;">4</span>
<span class="t" style="top:917.00px;font-size:18.3px;color:#1c1e21;letter-spacing:-0.110px;left:1236.21px;transform:scaleX(0.9930);transform-origin:0 0;">[2]</span>
<svg style="position:absolute;left:1211px;top:940px;overflow:visible;" width="18" height="5"><g transform="translate(0.400 0.650)"><path d="M0 1.25H16.10" stroke="#1c1e21" stroke-width="2.5" stroke-dasharray="2.3 2.3" fill="none"/></g></svg>
<span class="t" style="top:958.00px;font-size:25.0px;color:#7f8082;letter-spacing:-0.160px;left:1077.00px;transform:scaleX(0.9744);transform-origin:0 0;">Website leads</span>
<span class="t" style="top:915.00px;font-size:29.2px;color:#1c1e21;letter-spacing:-0.225px;left:1483.34px;transform:scaleX(0.9590);transform-origin:0 0;">2,574</span>
<span class="t" style="top:915.00px;font-size:29.2px;color:#1c1e21;letter-spacing:-0.158px;left:1794.00px;">1.12</span>
<span class="t" style="top:915.00px;font-size:29.2px;color:#1c1e21;letter-spacing:-0.214px;left:2031.40px;transform:scaleX(0.9888);transform-origin:0 0;">€12.25</span>
<span class="t" style="top:917.00px;font-size:18.3px;color:#1c1e21;letter-spacing:-0.110px;left:2126.91px;transform:scaleX(0.9930);transform-origin:0 0;">[2]</span>
<svg style="position:absolute;left:2031px;top:940px;overflow:visible;" width="89" height="5"><g transform="translate(0.000 0.650)"><path d="M0 1.25H87.20" stroke="#1c1e21" stroke-width="2.5" stroke-dasharray="2.3 2.3" fill="none"/></g></svg>
<span class="t" style="top:958.00px;font-size:25.0px;color:#7f8082;letter-spacing:-0.175px;left:2021.57px;transform:scaleX(0.9647);transform-origin:0 0;">Per Lead</span>
<span class="t" style="top:915.00px;font-size:29.2px;color:#1c1e21;letter-spacing:-0.218px;left:2629.40px;transform:scaleX(0.9812);transform-origin:0 0;">€49.00</span>
<svg style="position:absolute;left:81px;top:1016px;overflow:visible;" width="51" height="51"><g transform="translate(0.750 0.800)"><rect x="1" y="1" width="45.7" height="46" rx="10.2" fill="#fff" stroke="#d4d4d4" stroke-width="2"/></g></svg>
<svg style="position:absolute;left:204px;top:1002px;overflow:visible;" width="80" height="48"><g transform="translate(0.500 0.400)"><rect x="1" y="1" width="75" height="42.3" rx="21.15" fill="#fff" stroke="#d3d3d3" stroke-width="2"/><circle cx="22.15" cy="22.15" r="16.35" fill="#434343"/></g></svg>
<span class="t" style="top:1008.00px;font-size:29.2px;color:#1c1e21;letter-spacing:-0.173px;left:2196.02px;transform:scaleX(0.9892);transform-origin:0 0;">Using ad set bu<span style="display:inline-block;letter-spacing:0;margin-left:-0.59px;transform:scaleX(0.6802);transform-origin:0 0;">…</span></span>
<span class="t" style="right:1542.90px;top:1005.80px;font-size:28px;line-height:28px;color:#5d6673;transform:scaleX(.675) scaleY(1.0);transform-origin:100% 62%;">—</span>
<span class="t" style="top:1051.00px;font-size:25.0px;color:#7f8082;letter-spacing:-0.163px;left:1063.60px;transform:scaleX(0.9781);transform-origin:0 0;">Website purchase</span>
<span class="t" style="top:1008.00px;font-size:29.2px;color:#1c1e21;letter-spacing:-0.218px;left:1483.33px;transform:scaleX(0.9724);transform-origin:0 0;">8,098</span>
<span class="t" style="top:1008.00px;font-size:29.2px;color:#1c1e21;letter-spacing:-0.158px;left:1794.00px;">1.16</span>
<span class="t" style="right:652.20px;top:1005.80px;font-size:28px;line-height:28px;color:#5d6673;transform:scaleX(.675) scaleY(1.0);transform-origin:100% 62%;">—</span>
<span class="t" style="top:1051.00px;font-size:25.0px;color:#7f8082;letter-spacing:-0.166px;left:2001.35px;transform:scaleX(0.9746);transform-origin:0 0;">Per Purchase</span>
<span class="t" style="top:1008.00px;font-size:29.2px;color:#1c1e21;letter-spacing:-0.218px;left:2629.40px;transform:scaleX(0.9812);transform-origin:0 0;">€53.90</span>
<svg style="position:absolute;left:81px;top:1110px;overflow:visible;" width="51" height="51"><g transform="translate(0.750 0.300)"><rect x="1" y="1" width="45.7" height="46" rx="10.2" fill="#fff" stroke="#d4d4d4" stroke-width="2"/></g></svg>
<svg style="position:absolute;left:204px;top:1095px;overflow:visible;" width="80" height="48"><g transform="translate(0.500 0.900)"><rect x="1" y="1" width="75" height="42.3" rx="21.15" fill="#fff" stroke="#d3d3d3" stroke-width="2"/><circle cx="22.15" cy="22.15" r="16.35" fill="#434343"/></g></svg>
<span class="t" style="top:1102.00px;font-size:29.2px;color:#1c1e21;letter-spacing:-0.173px;left:2196.02px;transform:scaleX(0.9892);transform-origin:0 0;">Using ad set bu<span style="display:inline-block;letter-spacing:0;margin-left:-0.59px;transform:scaleX(0.6802);transform-origin:0 0;">…</span></span>
<span class="t" style="right:1542.90px;top:1099.30px;font-size:28px;line-height:28px;color:#5d6673;transform:scaleX(.675) scaleY(1.0);transform-origin:100% 62%;">—</span>
<span class="t" style="top:1145.00px;font-size:25.0px;color:#7f8082;letter-spacing:-0.151px;left:1026.50px;transform:scaleX(0.9835);transform-origin:0 0;">Website view content</span>
<span class="t" style="right:1246.20px;top:1099.30px;font-size:28px;line-height:28px;color:#5d6673;transform:scaleX(.675) scaleY(1.0);transform-origin:100% 62%;">—</span>
<span class="t" style="right:949.40px;top:1099.30px;font-size:28px;line-height:28px;color:#5d6673;transform:scaleX(.675) scaleY(1.0);transform-origin:100% 62%;">—</span>
<span class="t" style="right:652.20px;top:1099.30px;font-size:28px;line-height:28px;color:#5d6673;transform:scaleX(.675) scaleY(1.0);transform-origin:100% 62%;">—</span>
<span class="t" style="top:1145.00px;font-size:25.0px;color:#7f8082;letter-spacing:-0.157px;left:1958.74px;transform:scaleX(0.9779);transform-origin:0 0;">Per View Content</span>
<span class="t" style="right:82.80px;top:1099.30px;font-size:28px;line-height:28px;color:#5d6673;transform:scaleX(.675) scaleY(1.0);transform-origin:100% 62%;">—</span>
<svg style="position:absolute;left:81px;top:1203px;overflow:visible;" width="51" height="51"><g transform="translate(0.750 0.800)"><rect x="1" y="1" width="45.7" height="46" rx="10.2" fill="#fff" stroke="#d4d4d4" stroke-width="2"/></g></svg>
<svg style="position:absolute;left:204px;top:1189px;overflow:visible;" width="80" height="48"><g transform="translate(0.500 0.400)"><rect x="1" y="1" width="75" height="42.3" rx="21.15" fill="#fff" stroke="#d3d3d3" stroke-width="2"/><circle cx="22.15" cy="22.15" r="16.35" fill="#434343"/></g></svg>
<span class="t" style="top:1195.00px;font-size:29.2px;color:#1c1e21;letter-spacing:-0.173px;left:2196.02px;transform:scaleX(0.9892);transform-origin:0 0;">Using ad set bu<span style="display:inline-block;letter-spacing:0;margin-left:-0.59px;transform:scaleX(0.6802);transform-origin:0 0;">…</span></span>
<span class="t" style="right:1542.90px;top:1192.80px;font-size:28px;line-height:28px;color:#5d6673;transform:scaleX(.675) scaleY(1.0);transform-origin:100% 62%;">—</span>
<span class="t" style="top:1238.00px;font-size:25.0px;color:#7f8082;letter-spacing:-0.177px;left:1110.92px;transform:scaleX(0.9903);transform-origin:0 0;">Lead Custom</span>
<span class="t" style="right:1246.20px;top:1192.80px;font-size:28px;line-height:28px;color:#5d6673;transform:scaleX(.675) scaleY(1.0);transform-origin:100% 62%;">—</span>
<span class="t" style="right:949.40px;top:1192.80px;font-size:28px;line-height:28px;color:#5d6673;transform:scaleX(.675) scaleY(1.0);transform-origin:100% 62%;">—</span>
<span class="t" style="right:652.20px;top:1192.80px;font-size:28px;line-height:28px;color:#5d6673;transform:scaleX(.675) scaleY(1.0);transform-origin:100% 62%;">—</span>
<span class="t" style="top:1238.00px;font-size:25.0px;color:#7f8082;letter-spacing:-0.168px;left:1958.94px;transform:scaleX(0.9790);transform-origin:0 0;">Per Lead Custom</span>
<span class="t" style="right:82.80px;top:1192.80px;font-size:28px;line-height:28px;color:#5d6673;transform:scaleX(.675) scaleY(1.0);transform-origin:100% 62%;">—</span>
<svg style="position:absolute;left:81px;top:1297px;overflow:visible;" width="51" height="51"><g transform="translate(0.750 0.300)"><rect x="1" y="1" width="45.7" height="46" rx="10.2" fill="#fff" stroke="#d4d4d4" stroke-width="2"/></g></svg>
<svg style="position:absolute;left:204px;top:1282px;overflow:visible;" width="80" height="48"><g transform="translate(0.500 0.900)"><rect x="1" y="1" width="75" height="42.3" rx="21.15" fill="#fff" stroke="#d3d3d3" stroke-width="2"/><circle cx="22.15" cy="22.15" r="16.35" fill="#434343"/></g></svg>
<span class="t" style="top:1289.00px;font-size:29.2px;color:#1c1e21;letter-spacing:-0.173px;left:2196.02px;transform:scaleX(0.9892);transform-origin:0 0;">Using ad set bu<span style="display:inline-block;letter-spacing:0;margin-left:-0.59px;transform:scaleX(0.6802);transform-origin:0 0;">…</span></span>
<span class="t" style="right:1542.90px;top:1286.30px;font-size:28px;line-height:28px;color:#5d6673;transform:scaleX(.675) scaleY(1.0);transform-origin:100% 62%;">—</span>
<span class="t" style="top:1332.00px;font-size:25.0px;color:#7f8082;letter-spacing:-0.160px;left:1118.00px;transform:scaleX(0.9731);transform-origin:0 0;">Website lead</span>
<span class="t" style="right:1246.20px;top:1286.30px;font-size:28px;line-height:28px;color:#5d6673;transform:scaleX(.675) scaleY(1.0);transform-origin:100% 62%;">—</span>
<span class="t" style="right:949.40px;top:1286.30px;font-size:28px;line-height:28px;color:#5d6673;transform:scaleX(.675) scaleY(1.0);transform-origin:100% 62%;">—</span>
<span class="t" style="right:652.20px;top:1286.30px;font-size:28px;line-height:28px;color:#5d6673;transform:scaleX(.675) scaleY(1.0);transform-origin:100% 62%;">—</span>
<span class="t" style="top:1332.00px;font-size:25.0px;color:#7f8082;letter-spacing:-0.175px;left:2050.37px;transform:scaleX(0.9657);transform-origin:0 0;">Per Lead</span>
<span class="t" style="right:82.80px;top:1286.30px;font-size:28px;line-height:28px;color:#5d6673;transform:scaleX(.675) scaleY(1.0);transform-origin:100% 62%;">—</span>
<svg style="position:absolute;left:81px;top:1390px;overflow:visible;" width="51" height="51"><g transform="translate(0.750 0.800)"><rect x="1" y="1" width="45.7" height="46" rx="10.2" fill="#fff" stroke="#d4d4d4" stroke-width="2"/></g></svg>
<svg style="position:absolute;left:204px;top:1376px;overflow:visible;" width="80" height="48"><g transform="translate(0.500 0.400)"><rect x="1" y="1" width="75" height="42.3" rx="21.15" fill="#fff" stroke="#d3d3d3" stroke-width="2"/><circle cx="22.15" cy="22.15" r="16.35" fill="#434343"/></g></svg>
<span class="t" style="top:1382.00px;font-size:29.2px;color:#1c1e21;letter-spacing:-0.173px;left:2196.02px;transform:scaleX(0.9892);transform-origin:0 0;">Using ad set bu<span style="display:inline-block;letter-spacing:0;margin-left:-0.59px;transform:scaleX(0.6802);transform-origin:0 0;">…</span></span>
<span class="t" style="top:1382.00px;font-size:29.2px;color:#1461cc;letter-spacing:-0.199px;left:354.63px;transform:scaleX(0.9855);transform-origin:0 0;">New Leads campaign</span>
<div style="position:absolute;left:336px;top:430px;width:528px;height:452px;background:#fff;"></div>
<div style="position:absolute;left:331.4px;top:880px;width:528.4px;height:451px;background:#fff;"></div>
<span class="t" style="top:447.00px;font-size:29.2px;color:#f2f6fd;letter-spacing:-0.281px;left:354.80px;transform:scaleX(0.9025);transform-origin:0 0;">PUC FR</span>
<span class="t" style="top:541.00px;font-size:29.2px;color:#f2f6fd;letter-spacing:-0.247px;left:356.60px;transform:scaleX(0.8792);transform-origin:0 0;">JUL Lea</span>
<span class="t" style="top:635.00px;font-size:29.2px;color:#f2f6fd;letter-spacing:-0.214px;left:354.64px;transform:scaleX(0.9822);transform-origin:0 0;">French</span>
<span class="t" style="top:728.00px;font-size:29.2px;color:#f2f6fd;letter-spacing:-0.241px;left:354.82px;transform:scaleX(0.8897);transform-origin:0 0;">FB Lead</span>
<span class="t" style="top:821.00px;font-size:29.2px;color:#f2f6fd;letter-spacing:-0.215px;left:355.61px;transform:scaleX(0.9898);transform-origin:0 0;">SID Pag</span>
<span class="t" style="top:915.00px;font-size:29.2px;color:#f2f6fd;letter-spacing:-0.236px;left:356.60px;transform:scaleX(0.9458);transform-origin:0 0;">JUL LP</span>
<span class="t" style="top:1009.00px;font-size:29.2px;color:#f2f6fd;letter-spacing:-0.227px;left:354.67px;transform:scaleX(0.9655);transform-origin:0 0;">Purcha</span>
<span class="t" style="top:1102.00px;font-size:29.2px;color:#f2f6fd;letter-spacing:1.538px;left:356.60px;">Airline</span>
<span class="t" style="top:1195.00px;font-size:29.2px;color:#f2f6fd;letter-spacing:-0.239px;left:354.67px;transform:scaleX(0.9627);transform-origin:0 0;">May En</span>
<span class="t" style="top:1289.00px;font-size:29.2px;color:#f2f6fd;letter-spacing:0.794px;left:354.60px;">LP May</span>
</div>
<div style="position:absolute;left:57px;top:1384px;width:2692.3px;height:11px;background:linear-gradient(180deg,rgba(0,0,0,0),rgba(0,0,0,.105));"></div>
<div style="position:absolute;left:57px;top:1395px;width:2692.3px;height:93px;background:#fff;"></div>
<div style="position:absolute;left:329px;top:1395px;width:2px;height:93px;background:#dadbde;"></div>
<div style="position:absolute;left:1281px;top:1395px;width:2px;height:93px;background:#dadbde;"></div>
<div style="position:absolute;left:1578px;top:1395px;width:2px;height:93px;background:#dadbde;"></div>
<div style="position:absolute;left:1874.1px;top:1395px;width:2px;height:93px;background:#dadbde;"></div>
<div style="position:absolute;left:2171.3px;top:1395px;width:2px;height:93px;background:#dadbde;"></div>
<div style="position:absolute;left:2444px;top:1395px;width:2px;height:93px;background:#dadbde;"></div>
<div style="position:absolute;left:2740.8px;top:1395px;width:2px;height:93px;background:#dadbde;"></div>
<div style="position:absolute;left:982px;top:1395px;width:2px;height:93px;background:#dcdde0;"></div>
<div style="position:absolute;left:984px;top:1395px;width:2px;height:93px;background:#c4c5c9;"></div>
<div style="position:absolute;left:986px;top:1395px;width:7px;height:93px;background:linear-gradient(90deg,rgba(0,0,0,.075),rgba(0,0,0,0));"></div>
<span class="t" style="top:1414.00px;font-size:29.2px;color:#1c1e21;font-weight:700;-webkit-text-stroke-width:0.55px;letter-spacing:-0.202px;left:355.46px;transform:scaleX(0.9353);transform-origin:0 0;">Results from 22 campaigns</span>
<svg style="position:absolute;left:714px;top:1415px;overflow:visible;" width="26" height="26"><g transform="translate(0.700 0.000) scale(0.98374 0.98374)"><circle cx="12.3" cy="12.3" r="12.3" fill="#444"/><circle cx="12.3" cy="6.9" r="1.9" fill="#fff"/><path d="M10 10.6H13.9V19.2H10Z M9.4 10.6H13.9V12.4H9.4Z" fill="#fff"/></g></svg>
<span class="t" style="right:1530.20px;top:1410.50px;font-size:28px;line-height:28px;color:#59616e;font-weight:700;transform:scaleX(.715) scaleY(1.12);transform-origin:100% 62%;">—</span>
<span class="t" style="top:1414.00px;font-size:29.2px;color:#1c1e21;font-weight:700;-webkit-text-stroke-width:0.55px;letter-spacing:-0.088px;left:1476.30px;">99,493</span>
<span class="t" style="top:1456.00px;font-size:25.0px;color:#7f8082;letter-spacing:-0.155px;left:1303.70px;transform:scaleX(0.9917);transform-origin:0 0;">Accounts Centre acco<span style="display:inline-block;letter-spacing:0;margin-left:-0.72px;transform:scaleX(0.7032);transform-origin:0 0;">…</span></span>
<span class="t" style="top:1414.00px;font-size:29.2px;color:#1c1e21;font-weight:700;-webkit-text-stroke-width:0.55px;letter-spacing:0.242px;left:1805.20px;">1.27</span>
<span class="t" style="top:1456.00px;font-size:25.0px;color:#7f8082;letter-spacing:-0.151px;left:1598.73px;transform:scaleX(0.9850);transform-origin:0 0;">Per Accounts Centre a<span style="display:inline-block;letter-spacing:0;margin-left:0.28px;transform:scaleX(0.7080);transform-origin:0 0;">…</span></span>
<span class="t" style="right:639.20px;top:1410.50px;font-size:28px;line-height:28px;color:#59616e;font-weight:700;transform:scaleX(.715) scaleY(1.12);transform-origin:100% 62%;">—</span>
<span class="t" style="top:1414.00px;font-size:29.2px;color:#1c1e21;font-weight:700;-webkit-text-stroke-width:0.55px;letter-spacing:-0.214px;left:2601.50px;">€1,321.02</span>
<span class="t" style="top:1456.00px;font-size:25.0px;color:#7f8082;letter-spacing:-0.153px;left:2608.10px;transform:scaleX(0.9813);transform-origin:0 0;">Total Spent</span>
<div style="position:absolute;left:2726.4px;top:441px;width:12.8px;height:427.6px;background:#c1c1c1;border-radius:6.4px;"></div>
<div style="position:absolute;left:2748px;top:203px;width:1px;height:1285px;background:#ededed;"></div>
<svg style="position:absolute;left:970px;top:284px;overflow:visible;" width="604" height="804"><g transform="translate(0.050 0.000)"><rect x="4.8" y="4.8" width="592.45" height="793.30" fill="none" stroke="#dc0000" stroke-width="9.6"/></g></svg>
<svg style="position:absolute;left:1875px;top:311px;overflow:visible;" width="295" height="742"><g transform="translate(0.100 0.100)"><rect x="4.8" y="4.8" width="284.30" height="730.80" fill="none" stroke="#dc0000" stroke-width="9.6"/></g></svg>
<svg style="position:absolute;left:2446px;top:311px;overflow:visible;" width="305" height="742"><g transform="translate(0.000 0.100)"><rect x="4.8" y="4.8" width="293.70" height="730.80" fill="none" stroke="#dc0000" stroke-width="9.6"/></g></svg>
</body></html>
